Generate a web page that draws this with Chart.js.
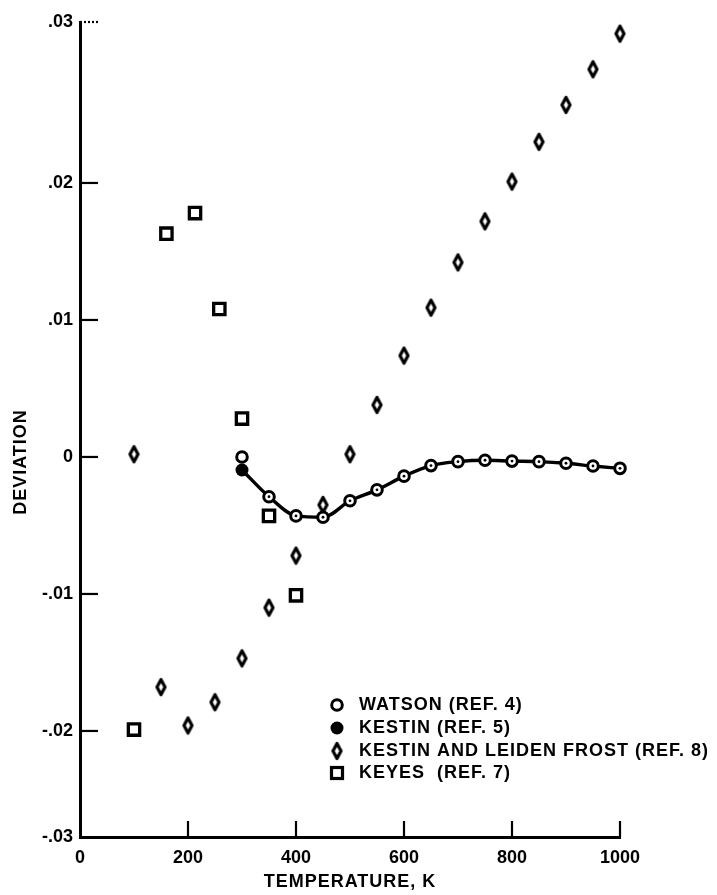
<!DOCTYPE html>
<html>
<head>
<meta charset="utf-8">
<script src="https://cdn.jsdelivr.net/npm/chart.js"></script>
<style>
  html, body { margin: 0; padding: 0; background: #fff; }
</style>
</head>
<body>
<canvas id="myChart" width="717" height="895"></canvas>
<script>
// Watson (ref. 4) - open circles, joined by the curve
const watsonT = [300, 350, 400, 450, 500, 550, 600, 650, 700, 750, 800, 850, 900, 950, 1000];
const watsonDev = [0.0000, -0.0029, -0.0043, -0.0044, -0.0032, -0.0024, -0.0014, -0.00063, -0.00034, -0.00024, -0.0003, -0.00034, -0.00046, -0.00066, -0.00083];

// Kestin (ref. 5) - filled circle
const kestinT = [300];
const kestinDev = [-0.00095];

// Kestin and Leidenfrost (ref. 8) - diamonds
const leidenT = [100, 150, 200, 250, 300, 350, 400, 450, 500, 550, 600, 650, 700, 750, 800, 850, 900, 950, 1000];
const leidenDev = [0.0002, -0.0168, -0.0196, -0.0179, -0.0147, -0.0110, -0.0072, -0.0035, 0.0002, 0.0038, 0.0074, 0.0109, 0.0142, 0.0172, 0.0201, 0.0230, 0.0257, 0.0283, 0.0309];

// Keyes (ref. 7) - squares
const keyesT = [100, 160, 213, 258, 300, 350, 400];
const keyesDev = [-0.0199, 0.0163, 0.0178, 0.0108, 0.0028, -0.0043, -0.0101];

const xTicks = [0, 200, 400, 600, 800, 1000];
const yTicks = [-0.03, -0.02, -0.01, 0, 0.01, 0.02, 0.03];
const yTickLabels = ['-.03', '-.02', '-.01', '0', '.01', '.02', '.03'];
// the scanned axis is stretched at its ends: .03 and -.03 sit on the frame edges
const yMin = -0.02774;
const yMax = 0.03175;

const legendItems = ['WATSON (REF. 4)', 'KESTIN (REF. 5)', 'KESTIN AND LEIDEN FROST (REF. 8)', 'KEYES  (REF. 7)'];
const xTitle = 'TEMPERATURE, K';
const yTitle = 'DEVIATION';

const FONT = 'Liberation Sans, Arial, sans-serif';

function pts(xs, ys) {
  return xs.map((x, i) => ({ x: x, y: ys[i] }));
}

function makeDiamond(w, h, lw) {
  const c = document.createElement('canvas');
  c.width = Math.ceil(w + lw * 2);
  c.height = Math.ceil(h + lw * 2);
  const g = c.getContext('2d');
  const cx = c.width / 2, cy = c.height / 2;
  g.lineWidth = lw;
  g.lineJoin = 'round';
  g.strokeStyle = '#000';
  g.fillStyle = '#fff';
  g.beginPath();
  g.moveTo(cx, cy - h / 2);
  g.lineTo(cx + w / 2, cy);
  g.lineTo(cx, cy + h / 2);
  g.lineTo(cx - w / 2, cy);
  g.closePath();
  g.fill();
  g.stroke();
  return c;
}
const diamond = makeDiamond(8, 15, 3.2);

// curve: starts at the Kestin point, then through Watson from 350 K
const curveData = pts(kestinT, kestinDev).concat(pts(watsonT.slice(1), watsonDev.slice(1)));

const figureExtras = {
  id: 'figureExtras',
  afterDraw(chart) {
    const ctx = chart.ctx;
    const xs = chart.scales.x, ys = chart.scales.y;
    const a = chart.chartArea;
    ctx.save();
    ctx.strokeStyle = '#000';
    ctx.lineWidth = 2.2;
    // inward tick marks
    xs.ticks.forEach(t => {
      if (t.value === xs.min) return;
      const px = xs.getPixelForValue(t.value);
      ctx.beginPath();
      ctx.moveTo(px, a.bottom);
      ctx.lineTo(px, a.bottom - 16);
      ctx.stroke();
    });
    ys.ticks.forEach(t => {
      if (t.value === ys.min) return;
      const py = ys.getPixelForValue(t.value);
      ctx.setLineDash(t.value === ys.max ? [2, 2] : []);
      ctx.beginPath();
      ctx.moveTo(a.left, py);
      ctx.lineTo(a.left + 18, py);
      ctx.stroke();
    });
    ctx.setLineDash([]);

    // axis titles
    ctx.fillStyle = '#000';
    ctx.font = 'bold 18px ' + FONT;
    ctx.letterSpacing = '1px';
    ctx.textBaseline = 'middle';
    ctx.textAlign = 'center';
    ctx.fillText(xTitle, (a.left + a.right) / 2, 882);
    ctx.save();
    ctx.translate(21, 462);
    ctx.rotate(-Math.PI / 2);
    ctx.fillText(yTitle, 0, 0);
    ctx.restore();

    // legend
    const lx = 337, ty = [705, 728, 751, 773];
    ctx.lineWidth = 3;
    ctx.fillStyle = '#fff';
    ctx.beginPath();
    ctx.arc(lx, ty[0], 5.3, 0, Math.PI * 2);
    ctx.fill();
    ctx.stroke();
    ctx.fillStyle = '#000';
    ctx.beginPath();
    ctx.arc(lx, ty[1], 6.5, 0, Math.PI * 2);
    ctx.fill();
    ctx.drawImage(diamond, lx - diamond.width / 2, ty[2] - diamond.height / 2);
    ctx.lineWidth = 3.2;
    ctx.strokeRect(lx - 5.5, ty[3] - 5.5, 11, 11);
    ctx.fillStyle = '#000';
    ctx.textAlign = 'left';
    legendItems.forEach((s, i) => ctx.fillText(s, 359, ty[i]));
    ctx.restore();
  }
};

function renderChart() {
  const ctx = document.getElementById('myChart');

  new Chart(ctx, {
    type: 'scatter',
    data: {
      datasets: [
        {
          label: 'watson centres',
          data: pts(watsonT.slice(1), watsonDev.slice(1)),
          pointRadius: 1.4,
          pointBackgroundColor: '#000',
          pointBorderWidth: 0,
          clip: false,
          order: 0,
        },
        {
          label: 'Kestin (ref. 5)',
          data: pts(kestinT, kestinDev),
          pointRadius: 6.5,
          pointBackgroundColor: '#000',
          pointBorderColor: '#000',
          pointBorderWidth: 0,
          clip: false,
          order: 1,
        },
        {
          label: 'Watson (ref. 4)',
          data: pts(watsonT, watsonDev),
          pointRadius: 5.3,
          pointBackgroundColor: '#fff',
          pointBorderColor: '#000',
          pointBorderWidth: 3,
          clip: false,
          order: 2,
        },
        {
          label: 'Kestin and Leidenfrost (ref. 8)',
          data: pts(leidenT, leidenDev),
          pointStyle: diamond,
          clip: false,
          order: 3,
        },
        {
          label: 'Keyes (ref. 7)',
          data: pts(keyesT, keyesDev),
          pointStyle: 'rect',
          pointRadius: 8,
          pointBackgroundColor: '#fff',
          pointBorderColor: '#000',
          pointBorderWidth: 3.3,
          clip: false,
          order: 4,
        },
        {
          label: 'curve',
          type: 'line',
          data: curveData,
          borderColor: '#000',
          borderWidth: 3.4,
          tension: 0.4,
          cubicInterpolationMode: 'monotone',
          pointRadius: 0,
          fill: false,
          clip: false,
          order: 5,
        },
      ],
    },
    options: {
      responsive: false,
      animation: false,
      devicePixelRatio: 1,
      layout: {
        padding: { left: 0, right: 97, top: 22, bottom: 0 },
      },
      scales: {
        x: {
          type: 'linear',
          min: 0,
          max: 1000,
          afterBuildTicks: (scale) => {
            scale.ticks = xTicks.map(v => ({ value: v }));
          },
          afterFit: (scale) => { scale.height = 58; },
          grid: { display: false, drawTicks: false },
          border: { display: true, color: '#000', width: 3 },
          ticks: {
            color: '#000',
            padding: 10,
            font: { size: 18, weight: 'bold', family: FONT },
            callback: (value) => String(value),
          },
        },
        y: {
          type: 'linear',
          min: yMin,
          max: yMax,
          afterBuildTicks: (scale) => {
            const last = yTicks.length - 1;
            scale.ticks = yTicks.map((v, i) => ({ value: i === 0 ? scale.min : (i === last ? scale.max : v) }));
          },
          afterFit: (scale) => { scale.width = 80; },
          grid: { display: false, drawTicks: false },
          border: { display: true, color: '#000', width: 3 },
          ticks: {
            color: '#000',
            padding: 7,
            font: { size: 18, weight: 'bold', family: FONT },
            callback: (value, index) => yTickLabels[index],
          },
        },
      },
      plugins: {
        legend: { display: false },
        tooltip: { enabled: false },
        title: { display: false },
      },
    },
    plugins: [figureExtras],
  });
}

renderChart();
</script>
</body>
</html>
